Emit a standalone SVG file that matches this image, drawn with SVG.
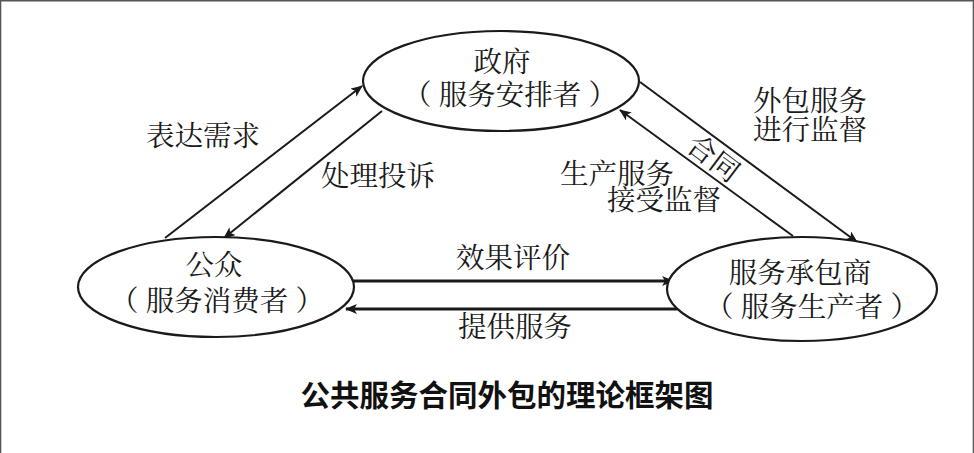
<svg xmlns="http://www.w3.org/2000/svg" width="974" height="453" viewBox="0 0 974 453">
<style>
.node ellipse{fill:#fff;stroke:#1a1a1a;stroke-width:2.2}
.t{font-family:"Noto Serif CJK SC","Noto Sans CJK SC",serif;font-size:28.5px;fill:#1a1a1a;text-anchor:middle}
.e{stroke:#1a1a1a;stroke-width:2;fill:none;marker-end:url(#ah)}
.h{stroke-width:3}
.title{font-family:"Noto Sans CJK SC",sans-serif;font-size:29.5px;font-weight:bold;fill:#111;text-anchor:middle}
</style>
<defs>
<marker id="ah" viewBox="0 0 12 10" refX="11" refY="5" markerWidth="12" markerHeight="10" markerUnits="userSpaceOnUse" orient="auto">
<path d="M0,0 L12,5 L0,10 L3,5 Z" fill="#1a1a1a"/>
</marker>
</defs>
<rect x="0" y="0" width="974" height="453" fill="#fff"/>
<path d="M0.5,453 V0.8 H973.5 V453" fill="none" stroke="#555" stroke-width="1.6"/>
<g id="connectors">
<line class="e" x1="165" y1="238" x2="362" y2="86"/>
<line class="e" x1="382" y1="111" x2="224" y2="238"/>
<line class="e" x1="640" y1="82" x2="857" y2="242"/>
<line class="e" x1="793" y1="236" x2="620" y2="110"/>
<line class="e h" x1="353" y1="281" x2="673" y2="281"/>
<line class="e h" x1="677" y1="309" x2="346" y2="309"/>
<text class="t" x="203" y="146">表达需求</text>
<text class="t" x="378" y="186">处理投诉</text>
<text class="t" x="810" y="111">外包服务</text>
<text class="t" x="810" y="140">进行监督</text>
<text class="t" x="617" y="184">生产服务</text>
<text class="t" x="664" y="210">接受监督</text>
<text class="t" transform="translate(713,159) rotate(37)" y="9">合同</text>
<text class="t" x="513" y="268">效果评价</text>
<text class="t" x="515" y="337">提供服务</text>
</g>
<g id="gov" class="node">
<ellipse cx="501" cy="81" rx="138" ry="50"/>
<text class="t" x="502" y="72">政府</text>
<text class="t" x="510" y="105">（ 服务安排者 ）</text>
</g>
<g id="public" class="node">
<ellipse cx="216" cy="287" rx="138" ry="50"/>
<text class="t" x="214" y="275">公众</text>
<text class="t" x="217" y="311">（ 服务消费者 ）</text>
</g>
<g id="contractor" class="node">
<ellipse cx="802" cy="289" rx="135" ry="52"/>
<text class="t" x="800" y="283">服务承包商</text>
<text class="t" x="812" y="317">（ 服务生产者 ）</text>
</g>
<text class="title" x="507" y="406">公共服务合同外包的理论框架图</text>
</svg>
